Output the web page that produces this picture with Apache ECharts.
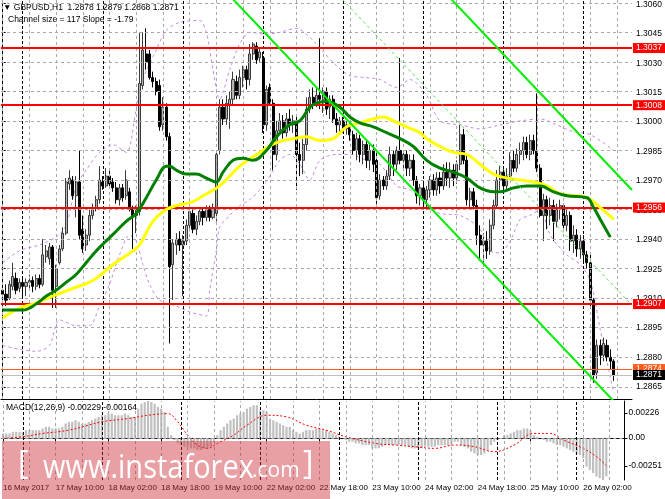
<!DOCTYPE html>
<html><head><meta charset="utf-8">
<script src="https://cdn.jsdelivr.net/npm/echarts/dist/echarts.min.js"></script>
<style>html,body{margin:0;padding:0;background:#fff}#c{width:665px;height:499px}</style>
</head><body><div id="c"></div><script>
// ---------- DATA ----------
const timeLabels = ['16 May 2017','17 May 10:00','18 May 02:00','18 May 18:00','19 May 10:00','22 May 02:00','22 May 18:00','23 May 10:00','24 May 02:00','24 May 18:00','25 May 10:00','26 May 02:00'];
const labelStep = 16;           // one time label every 16 hourly bars
const gridStep = 8;             // vertical grid every 8 bars
const daySeparatorBars = [6,30,54,78,102,126,150,174];
const nCats = 189;              // 184 bars + right shift
const priceTicks = [1.2865,1.2880,1.2895,1.2910,1.2925,1.2940,1.2955,1.2970,1.2985,1.3000,1.3015,1.3030,1.3045,1.3060];
const macdTicks = [0.00226,0,-0.00251];
const redLevels = [1.3037,1.3008,1.2956,1.2907];
const orangeLevel = 1.2874;
const bidLevel = 1.2871;

const O=[1.2914,1.2912,1.2910,1.2916,1.2920,1.2915,1.2918,1.2916,1.2918,1.2919,
1.2916,1.2920,1.2917,1.2931,1.2930,1.2936,1.2916,1.2928,1.2935,1.2943,
1.2968,1.2970,1.2962,1.2969,1.2945,1.2937,1.2942,1.2952,1.2956,1.2960,
1.2969,1.2967,1.2972,1.2969,1.2966,1.2960,1.2966,1.2962,1.2964,1.2955,
1.2952,1.2954,1.3018,1.3034,1.3034,1.3022,1.3020,1.3018,1.2998,1.3007,
1.2992,1.2927,1.2937,1.2940,1.2937,1.2939,1.2947,1.2953,1.2945,1.2949,
1.2954,1.2951,1.2955,1.2951,1.2953,1.2985,1.3007,1.3001,1.3008,1.3011,
1.3020,1.3013,1.3022,1.3026,1.3021,1.3034,1.3038,1.3032,1.3032,1.2998,
1.3017,1.3009,1.2983,1.2995,1.3000,1.2994,1.3001,1.2998,1.3000,1.2983,
1.2980,1.2988,1.3006,1.3012,1.3008,1.3013,1.3011,1.3015,1.3007,1.3011,
1.3001,1.2998,1.3000,1.2996,1.2998,1.2993,1.2985,1.2991,1.2983,1.2988,
1.2980,1.2985,1.2980,1.2962,1.2970,1.2967,1.2972,1.2983,1.2978,1.2985,
1.2980,1.2983,1.2976,1.2980,1.2970,1.2962,1.2966,1.2960,1.2965,1.2970,
1.2965,1.2971,1.2967,1.2974,1.2971,1.2975,1.2971,1.2978,1.2993,1.2980,
1.2960,1.2964,1.2957,1.2942,1.2937,1.2939,1.2934,1.2947,1.2957,1.2970,
1.2974,1.2967,1.2972,1.2980,1.2976,1.2983,1.2985,1.2989,1.2983,1.2990,
1.2985,1.2976,1.2952,1.2960,1.2952,1.2957,1.2949,1.2955,1.2957,1.2947,
1.2952,1.2939,1.2942,1.2935,1.2939,1.2932,1.2928,1.2909,1.2872,1.2886,
1.2881,1.2886,1.2880,1.2878];
const H=[1.2918,1.2917,1.2919,1.2928,1.2923,1.2920,1.2920,1.2920,1.2922,1.2921,
1.2922,1.2922,1.2940,1.2937,1.2938,1.2937,1.2927,1.2937,1.2946,1.2971,
1.2975,1.2972,1.2972,1.2985,1.2952,1.2945,1.2955,1.2958,1.2962,1.2977,
1.2972,1.2976,1.2975,1.2971,1.2969,1.2968,1.2968,1.2975,1.2966,1.2957,
1.2957,1.3045,1.3045,1.3047,1.3036,1.3025,1.3022,1.3021,1.3012,1.3009,
1.2994,1.2940,1.2943,1.2944,1.2942,1.2950,1.2956,1.2955,1.2952,1.2956,
1.2956,1.2957,1.2957,1.2958,1.2985,1.3011,1.3011,1.3013,1.3015,1.3025,
1.3023,1.3026,1.3028,1.3028,1.3039,1.3040,1.3040,1.3037,1.3035,1.3018,
1.3019,1.3011,1.3000,1.3004,1.3003,1.3004,1.3006,1.3003,1.3002,1.2989,
1.2991,1.3012,1.3016,1.3017,1.3017,1.3042,1.3017,1.3017,1.3013,1.3013,
1.3004,1.3002,1.3002,1.3000,1.2999,1.2995,1.2994,1.2993,1.2990,1.2990,
1.2988,1.2988,1.2985,1.2973,1.2972,1.2975,1.2987,1.2985,1.2987,1.3032,
1.2985,1.2985,1.2983,1.2983,1.2972,1.2968,1.2968,1.2967,1.2972,1.2973,
1.2974,1.2974,1.2978,1.2979,1.2979,1.2978,1.2980,1.2998,1.2996,1.2983,
1.2966,1.2966,1.2960,1.2947,1.2943,1.2944,1.2950,1.2960,1.2975,1.2977,
1.2976,1.2976,1.2984,1.2985,1.2986,1.2989,1.2992,1.2992,1.2993,1.2993,
1.3014,1.2978,1.2963,1.2962,1.2961,1.2960,1.2958,1.2960,1.2958,1.2956,
1.2954,1.2947,1.2945,1.2942,1.2942,1.2934,1.2932,1.2910,1.2889,1.2889,
1.2890,1.2889,1.2884,1.2879];
const L=[1.2905,1.2906,1.2909,1.2914,1.2912,1.2913,1.2911,1.2911,1.2915,1.2913,
1.2914,1.2915,1.2916,1.2928,1.2927,1.2905,1.2905,1.2927,1.2934,1.2942,
1.2965,1.2960,1.2951,1.2940,1.2933,1.2934,1.2939,1.2950,1.2954,1.2958,
1.2965,1.2966,1.2966,1.2964,1.2958,1.2957,1.2959,1.2960,1.2954,1.2935,
1.2943,1.2952,1.3016,1.3026,1.3021,1.3017,1.3013,1.2995,1.2995,1.2990,
1.2887,1.2909,1.2932,1.2934,1.2911,1.2937,1.2944,1.2943,1.2942,1.2947,
1.2947,1.2949,1.2949,1.2950,1.2949,1.2983,1.2998,1.2998,1.2996,1.3008,
1.3011,1.3011,1.3017,1.3016,1.3018,1.3031,1.3029,1.3030,1.2994,1.2995,
1.3008,1.2975,1.2980,1.2993,1.2991,1.2992,1.2995,1.2994,1.2965,1.2972,
1.2973,1.2985,1.3004,1.3006,1.3007,1.3006,1.3004,1.3003,1.3001,1.2999,
1.2994,1.2993,1.2994,1.2993,1.2990,1.2983,1.2980,1.2979,1.2978,1.2976,
1.2975,1.2974,1.2956,1.2960,1.2965,1.2965,1.2970,1.2972,1.2975,1.2978,
1.2975,1.2972,1.2972,1.2967,1.2958,1.2957,1.2956,1.2955,1.2961,1.2962,
1.2962,1.2963,1.2965,1.2967,1.2966,1.2967,1.2968,1.2975,1.2978,1.2957,
1.2956,1.2955,1.2937,1.2929,1.2928,1.2930,1.2932,1.2945,1.2956,1.2965,
1.2965,1.2965,1.2970,1.2974,1.2974,1.2978,1.2980,1.2981,1.2980,1.2983,
1.2974,1.2951,1.2939,1.2945,1.2947,1.2939,1.2946,1.2950,1.2944,1.2944,
1.2934,1.2933,1.2931,1.2930,1.2928,1.2925,1.2906,1.2867,1.2869,1.2876,
1.2878,1.2878,1.2874,1.2868];
const C=[1.2912,1.2909,1.2917,1.2921,1.2914,1.2918,1.2916,1.2918,1.2919,1.2916,
1.2920,1.2917,1.2932,1.2934,1.2936,1.2914,1.2925,1.2935,1.2943,1.2969,
1.2971,1.2962,1.2969,1.2942,1.2935,1.2942,1.2952,1.2956,1.2960,1.2970,
1.2967,1.2972,1.2968,1.2966,1.2960,1.2966,1.2961,1.2970,1.2955,1.2952,
1.2955,1.3019,1.3036,1.3030,1.3022,1.3020,1.3015,1.2997,1.3007,1.2992,
1.2926,1.2938,1.2940,1.2937,1.2939,1.2947,1.2954,1.2945,1.2949,1.2954,
1.2951,1.2955,1.2951,1.2956,1.2983,1.3007,1.3001,1.3009,1.3011,1.3021,
1.3013,1.3022,1.3026,1.3021,1.3034,1.3039,1.3031,1.3035,1.2998,1.3016,
1.3009,1.2983,1.2995,1.3000,1.2994,1.3001,1.2998,1.3000,1.2983,1.2980,
1.2988,1.3006,1.3012,1.3008,1.3013,1.3011,1.3015,1.3006,1.3011,1.3001,
1.2998,1.3000,1.2996,1.2998,1.2993,1.2985,1.2991,1.2983,1.2988,1.2980,
1.2985,1.2978,1.2961,1.2970,1.2967,1.2972,1.2983,1.2978,1.2985,1.2980,
1.2983,1.2976,1.2980,1.2970,1.2962,1.2966,1.2960,1.2965,1.2970,1.2965,
1.2971,1.2967,1.2974,1.2971,1.2975,1.2971,1.2978,1.2993,1.2980,1.2960,
1.2964,1.2957,1.2942,1.2937,1.2939,1.2934,1.2947,1.2957,1.2970,1.2974,
1.2967,1.2972,1.2980,1.2976,1.2983,1.2985,1.2989,1.2983,1.2990,1.2985,
1.2976,1.2952,1.2960,1.2952,1.2957,1.2949,1.2955,1.2957,1.2947,1.2952,
1.2939,1.2942,1.2935,1.2939,1.2932,1.2928,1.2909,1.2871,1.2886,1.2881,
1.2887,1.2880,1.2878,1.2871];

const greenMaBars=[0,6,10,13,16,19,22,25,28,31,34,37,40,43,46,49,50,52,55,58,61,64,66,69,72,75,79,82,86,89,92,94,97,101,104,107,111,115,119,123,127,131,135,139,143,147,149,153,157,161,165,169,175,177,179,182];
const greenMa=[1.2904,1.2904,1.2907,1.2911,1.2914,1.2918,1.2922,1.2928,1.2934,1.2939,1.2944,1.2949,1.2953,1.2961,1.2970,1.2977,1.2977,1.2975,1.2973,1.2973,1.2971,1.2969,1.2974,1.2980,1.2981,1.2980,1.2985,1.2992,1.2998,1.3000,1.3007,1.3009,1.3010,1.3007,1.3002,1.2999,1.2997,1.2994,1.2991,1.2987,1.2980,1.2976,1.2974,1.2971,1.2966,1.2964,1.2964,1.2966,1.2967,1.2967,1.2964,1.2962,1.2961,1.2956,1.2950,1.2941];
const yellowMaBars=[0,5,9,15,21,27,33,39,41,45,49,52,57,60,65,71,77,82,87,91,95,99,103,107,111,114,117,121,125,127,131,135,139,143,147,151,155,159,163,167,175,179,183];
const yellowMa=[1.2900,1.2905,1.2907,1.2911,1.2915,1.2919,1.2927,1.2934,1.2937,1.2949,1.2955,1.2957,1.2959,1.2962,1.2967,1.2977,1.2984,1.2989,1.2991,1.2992,1.2990,1.2991,1.2997,1.2999,1.3001,1.3002,1.3000,1.2997,1.2994,1.2991,1.2987,1.2984,1.2983,1.2978,1.2973,1.2971,1.2970,1.2969,1.2967,1.2963,1.2961,1.2956,1.2950];
const upperBandBars=[0,5,11,16,19,22,25,29,33,37,40,42,46,49,53,59,61,63,65,68,71,74,79,83,88,91,95,100,104,109,113,118,122,127,131,137,143,149,155,161,166,170,176,183];
const upperBand=[1.2928,1.2934,1.2937,1.2941,1.2947,1.2967,1.2975,1.2984,1.2988,1.2984,1.3006,1.3021,1.3036,1.3046,1.3050,1.3051,1.3045,1.3026,1.3011,1.3026,1.3039,1.3045,1.3044,1.3045,1.3047,1.3044,1.3037,1.3028,1.3023,1.3022,1.3021,1.3017,1.3021,1.3013,1.3000,1.2998,1.2996,1.2998,1.3000,1.3001,1.2998,1.2995,1.2993,1.2985];
const lowerBandBars=[0,5,10,14,17,22,26,29,32,35,38,40,42,44,47,52,56,61,62,64,65,68,71,74,77,80,83,86,89,92,95,100,104,109,113,118,122,127,131,137,143,146,149,152,155,158,161,164,169,173,176,179,183];
const lowerBand=[1.2886,1.2884,1.2883,1.2886,1.2899,1.2896,1.2896,1.2906,1.2917,1.2932,1.2942,1.2939,1.2927,1.2917,1.2909,1.2906,1.2903,1.2901,1.2914,1.2934,1.2946,1.2952,1.2957,1.2960,1.2965,1.2972,1.2980,1.2983,1.2978,1.2970,1.2980,1.2983,1.2983,1.2980,1.2978,1.2967,1.2965,1.2957,1.2953,1.2952,1.2945,1.2934,1.2933,1.2939,1.2950,1.2952,1.2955,1.2942,1.2932,1.2927,1.2919,1.2894,1.2862];

// regression channel (two anchor bars each)
const channelBars=[40,188.5];
const channelUpper=[1.32307,1.29649];
const channelMiddle=[1.31722,1.29064];
const channelLower=[1.31137,1.28479];

const macdHist=[0.0003,0.0003,0.0003,0.0004,0.0004,0.0004,0.0004,0.0005,0.0005,0.0005,
0.0005,0.0005,0.0006,0.0007,0.0007,0.0006,0.0006,0.0006,0.0007,0.0009,
0.0010,0.0010,0.0011,0.0010,0.0009,0.0009,0.0010,0.0011,0.0012,0.0013,
0.0014,0.0014,0.0015,0.0015,0.0014,0.0014,0.0014,0.0015,0.0014,0.0013,
0.0013,0.0018,0.0021,0.0022,0.00226,0.0022,0.0021,0.0019,0.0018,0.0016,
0.0007,0.0002,-0.0001,-0.0003,-0.0004,-0.0005,-0.0005,-0.0006,-0.0006,-0.0007,
-0.0007,-0.0006,-0.0006,-0.0005,-0.0002,0.0002,0.0005,0.0007,0.0009,0.0011,
0.0012,0.0014,0.0015,0.0016,0.0018,0.0019,0.0020,0.0020,0.0017,0.0017,
0.0016,0.0012,0.0011,0.0010,0.0009,0.0008,0.0007,0.0007,0.0005,0.0004,
0.0003,0.0004,0.0005,0.0005,0.0005,0.0006,0.0006,0.0005,0.0005,0.0004,
0.0003,0.0002,0.0001,0.0000,-0.0001,-0.0002,-0.0002,-0.0003,-0.0003,-0.0004,
-0.0004,-0.0004,-0.0006,-0.0006,-0.0006,-0.0005,-0.0004,-0.0004,-0.0004,-0.0004,
-0.0004,-0.0004,-0.0004,-0.0005,-0.0006,-0.0006,-0.0006,-0.0006,-0.0005,-0.0005,
-0.0005,-0.0005,-0.0004,-0.0004,-0.0004,-0.0004,-0.0004,-0.0002,-0.0002,-0.0004,
-0.0005,-0.0006,-0.0008,-0.0009,-0.0010,-0.0010,-0.0009,-0.0007,-0.0004,-0.0002,
-0.0001,0.0000,0.0002,0.0002,0.0003,0.0004,0.0005,0.0005,0.0006,0.0006,
0.0005,0.0002,0.0001,0.0000,-0.0001,-0.0002,-0.0002,-0.0003,-0.0004,-0.0004,
-0.0005,-0.0006,-0.0007,-0.0008,-0.0009,-0.0010,-0.0012,-0.0017,-0.0019,-0.0021,
-0.0023,-0.0024,-0.00251,-0.00229];
const signalBars=[0,6,12,20,30,38,44,50,53,56,59,62,65,70,74,80,86,92,98,104,113,119,125,131,137,143,149,155,161,166,170,176,180,183];
const signalLine=[0.0000,0.0001,0.0003,0.0005,0.0010,0.0012,0.0014,0.0015,0.0010,0.0002,-0.0004,-0.0006,-0.0003,0.0002,0.0008,0.0014,0.0013,0.0008,0.0005,0.0001,-0.0003,-0.0004,-0.0005,-0.0006,-0.0004,-0.0005,-0.0008,-0.0004,0.0003,0.0003,-0.0001,-0.0006,-0.0011,-0.00164];

// ---------- CHART ----------
const FONT='"Liberation Sans", Arial, sans-serif';
const GRIDC='#a8a8a8';
const cats = Array.from({length:nCats},(_,i)=>String(i));
const candles = O.map((o,i)=>[o,C[i],L[i],H[i]]);
const pairs=(xs,ys)=>xs.map((x,i)=>[x,ys[i]]);
const vgrid=[]; for(let k=0;k*gridStep<nCats;k++) vgrid.push(k*gridStep);
const labelInterval=(idx)=> idx%labelStep===0 && idx/labelStep<timeLabels.length;
const ML = (data, lineStyle, extra)=>Object.assign({silent:true,precision:6,symbol:['none','none'],animation:false,label:{show:false},lineStyle,data},extra||{});
const lvlLabel=(bg)=>({show:true,position:'end',distance:1,color:'#fff',backgroundColor:bg,padding:[1,3,0,3],fontSize:8.5,fontFamily:FONT,formatter:p=>Number(p.value).toFixed(4)});

const chart = echarts.init(document.getElementById('c'));
chart.setOption({
  animation:false,
  backgroundColor:'#fff',
  textStyle:{fontFamily:FONT},
  grid:[{left:1,right:33,top:0,height:399},{left:1,right:33,top:401,height:79},{left:1,right:33,top:0,height:399}],
  xAxis:[
    {type:'category',gridIndex:0,data:cats,boundaryGap:true,axisLine:{show:true,lineStyle:{color:'#000'}},axisTick:{show:false},axisLabel:{show:false},splitLine:{show:false}},
    {type:'category',gridIndex:1,data:cats,boundaryGap:true,axisLine:{show:true,lineStyle:{color:'#000'}},
      axisTick:{show:true,alignWithLabel:true,interval:labelInterval,length:3,lineStyle:{color:'#000'}},
      axisLabel:{show:true,interval:labelInterval,formatter:(v,i)=>timeLabels[i/labelStep],align:'left',fontSize:8,color:'#000',margin:4,fontFamily:FONT},splitLine:{show:false}},
    {type:'value',gridIndex:0,min:-0.5,max:nCats-0.5,show:false},
    {type:'value',gridIndex:1,min:-0.5,max:nCats-0.5,position:'top',axisLine:{show:true,lineStyle:{color:'#000'}},axisTick:{show:false},axisLabel:{show:false},splitLine:{show:false}},
    {type:'value',gridIndex:2,min:-0.5,max:nCats-0.5,show:false}
  ],
  yAxis:[
    {type:'value',gridIndex:0,position:'right',min:1.28588,max:1.30614,
      axisLine:{show:true,lineStyle:{color:'#000'}},
      axisTick:{show:true,customValues:priceTicks,length:3,lineStyle:{color:'#000'}},
      axisLabel:{show:false},splitLine:{show:false}},
    {type:'value',gridIndex:1,min:-0.00251,max:0.00226,show:false},
    {type:'value',gridIndex:1,position:'right',min:-0.00377,max:0.00334,
      axisLine:{show:true,lineStyle:{color:'#000'}},
      axisTick:{show:true,customValues:macdTicks,length:3,lineStyle:{color:'#000'}},
      axisLabel:{show:true,customValues:macdTicks,formatter:v=>v===0?'0.00':Number(v).toFixed(5),fontSize:8.5,color:'#000',margin:4,fontFamily:FONT},
      splitLine:{show:false}},
    {type:'value',gridIndex:2,position:'right',min:1.28588,max:1.30614,
      axisLine:{show:false},axisTick:{show:false},
      axisLabel:{show:true,customValues:priceTicks,formatter:v=>Number(v).toFixed(4),fontSize:8.5,color:'#000',margin:4,fontFamily:FONT},
      splitLine:{show:false}}
  ],
  series:[
    {type:'line',xAxisIndex:2,yAxisIndex:0,data:[],z:1,
      markLine:ML(priceTicks.map(v=>({yAxis:v})),{color:GRIDC,type:[3,3],width:1})},
    {type:'line',xAxisIndex:2,yAxisIndex:0,data:[],z:1,
      markLine:ML(vgrid.map(v=>({xAxis:v})),{color:GRIDC,type:[3,3],width:1})},
    {type:'line',xAxisIndex:2,yAxisIndex:0,data:[],z:2,
      markLine:ML(daySeparatorBars.map(v=>({xAxis:v})),{color:'#000',type:[3,2],width:1})},
    {type:'line',xAxisIndex:2,yAxisIndex:0,data:pairs(upperBandBars,upperBand),z:3,showSymbol:false,smooth:0.3,
      lineStyle:{color:'#c58ae8',width:1,type:[3,3]}},
    {type:'line',xAxisIndex:2,yAxisIndex:0,data:pairs(lowerBandBars,lowerBand),z:3,showSymbol:false,smooth:0.3,
      lineStyle:{color:'#c58ae8',width:1,type:[3,3]}},
    {type:'candlestick',xAxisIndex:0,yAxisIndex:0,data:candles,z:4,barWidth:2.6,
      itemStyle:{color:'#b4b4b4',color0:'#000',borderColor:'#3a3a3a',borderColor0:'#000',borderWidth:1}},
    {type:'line',xAxisIndex:2,yAxisIndex:0,data:pairs(yellowMaBars,yellowMa),z:5,showSymbol:false,smooth:0.4,
      lineStyle:{color:'#ffff00',width:3}},
    {type:'line',xAxisIndex:2,yAxisIndex:0,data:pairs(greenMaBars,greenMa),z:5,showSymbol:false,smooth:0.4,
      lineStyle:{color:'#008000',width:3}},
    {type:'line',xAxisIndex:2,yAxisIndex:0,data:pairs(channelBars,channelUpper),z:6,showSymbol:false,lineStyle:{color:'#00ee00',width:2}},
    {type:'line',xAxisIndex:2,yAxisIndex:0,data:pairs(channelBars,channelMiddle),z:6,showSymbol:false,lineStyle:{color:'#55e055',width:1,type:[3,3]}},
    {type:'line',xAxisIndex:2,yAxisIndex:0,data:pairs(channelBars,channelLower),z:6,showSymbol:false,lineStyle:{color:'#00ee00',width:2}},
    {type:'line',xAxisIndex:2,yAxisIndex:0,data:[],z:7,
      markLine:ML(redLevels.map(v=>({yAxis:v})),{color:'#ff0000',width:2,type:'solid'},{label:lvlLabel('#ff0000')})},
    {type:'line',xAxisIndex:2,yAxisIndex:0,data:[],z:8,
      markLine:ML([{yAxis:orangeLevel}],{color:'#ff5a1a',width:1,type:'solid'},{label:lvlLabel('#ff5a1a')})},
    {type:'line',xAxisIndex:2,yAxisIndex:0,data:[],z:9,
      markLine:ML([{yAxis:bidLevel}],{color:'#c0c0c0',width:1,type:'solid'},{label:lvlLabel('#000')})},
    // MACD panel
    {type:'line',xAxisIndex:3,yAxisIndex:1,data:[],z:1,
      markLine:ML([{yAxis:0}],{color:GRIDC,type:[3,3],width:1})},
    {type:'line',xAxisIndex:3,yAxisIndex:1,data:[],z:1,
      markLine:ML(vgrid.map(v=>({xAxis:v})),{color:GRIDC,type:[3,3],width:1})},
    {type:'line',xAxisIndex:3,yAxisIndex:1,data:[],z:2,
      markLine:ML(daySeparatorBars.map(v=>({xAxis:v})),{color:'#000',type:[3,2],width:1})},
    {type:'bar',xAxisIndex:1,yAxisIndex:1,data:macdHist,z:3,barWidth:2.2,itemStyle:{color:'#c0c0c0'}},
    {type:'line',xAxisIndex:3,yAxisIndex:1,data:pairs(signalBars,signalLine),z:4,showSymbol:false,smooth:0.4,
      lineStyle:{color:'#ff0000',width:1,type:[2,2]}}
  ],
  graphic:[
    {type:'text',left:3,top:3,z:50,style:{text:'▼ GBPUSD,H1  1.2878 1.2879 1.2868 1.2871',font:'8.5px '+FONT,fill:'#000'}},
    {type:'text',left:8,top:15,z:50,style:{text:'Channel size = 117 Slope = -1.79',font:'8.5px '+FONT,fill:'#000'}},
    {type:'text',left:6,top:403,z:50,style:{text:'MACD(12,26,9) -0.00229 -0.00164',font:'8.5px '+FONT,fill:'#000'}},
    {type:'rect',shape:{x:2,y:441,width:328,height:58},z:100,style:{fill:'rgba(204,44,55,0.45)'}},
    {type:'text',x:43,y:452,z:101,scaleY:1.15,style:{text:'www.instaforex',font:'29px "Open Sans"',fill:'#fff'}},
    {type:'text',x:252,y:461,z:101,style:{text:'.com',font:'21px "Open Sans"',fill:'#fff'}},
    {type:'text',x:18,y:449,z:101,style:{text:'[',font:'32px "Open Sans"',fill:'#fff'}},
    {type:'text',x:303,y:449,z:101,style:{text:']',font:'32px "Open Sans"',fill:'#fff'}}
  ]
});
</script></body></html>
